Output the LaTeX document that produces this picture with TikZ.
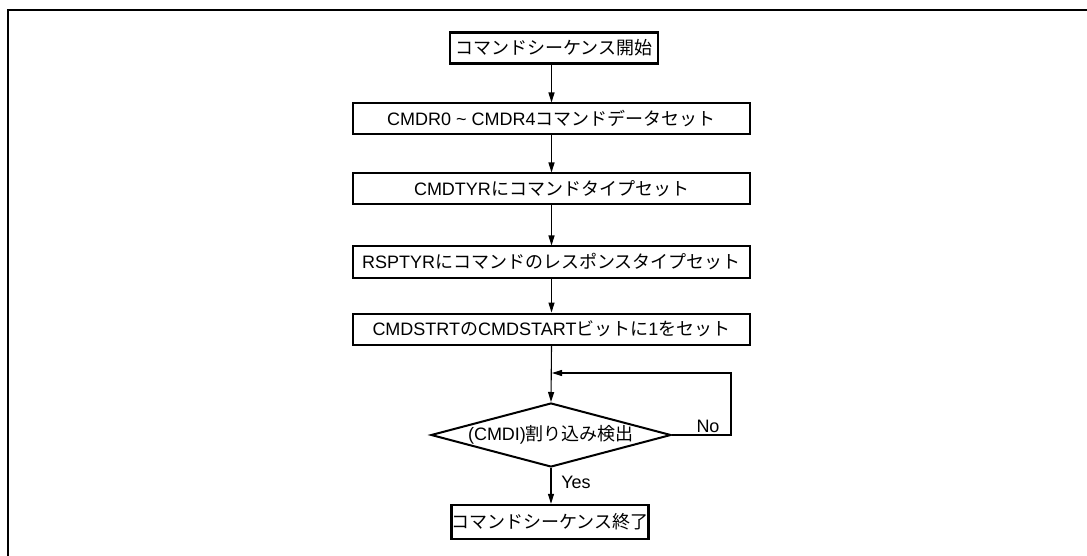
\documentclass[tikz,border=0pt]{standalone}
\usepackage{fontspec}
\setmainfont{Liberation Sans}
\newfontfamily\jp{Noto Sans CJK JP}
\usetikzlibrary{arrows.meta,shapes.geometric}
\begin{document}
\begin{tikzpicture}[x=1pt,y=-1pt,
  every node/.style={font=\fontsize{18}{20}\selectfont},
  proc/.style={draw, line width=2pt, minimum width=397pt, minimum height=31pt, inner sep=0pt},
  term/.style={draw, line width=2.4pt, minimum height=31pt, inner sep=0pt},
  arr/.style={-{Triangle[length=10pt,width=6pt]}, line width=1.1pt},
  lbl/.style={inner sep=0pt}]
\useasboundingbox (0,0) rectangle (1087,556);
\draw[line width=2.5pt] (8,560) -- (8,10) -- (1090,10);

\node[term, minimum width=208pt] (s) at (554,48) {\jp コマンドシーケンス開始};
\node[proc] (b2) at (551.5,119) {CMDR0 \textasciitilde\ CMDR4{\jp コマンドデータセット}};
\node[proc] (b3) at (551.5,189) {CMDTYR{\jp にコマンドタイプセット}};
\node[proc] (b4) at (551.5,262) {RSPTYR{\jp にコマンドのレスポンスタイプセット}};
\node[proc] (b5) at (551.5,329) {CMDSTRT{\jp の}CMDSTART{\jp ビットに}1{\jp をセット}};
\node[draw, diamond, line width=2pt, minimum width=240pt, minimum height=64pt, inner sep=0pt] (dia) at (551,435) {};
\node[lbl] (dt) at (dia.center) {(CMDI){\jp 割り込み検出}};
\node[term, minimum width=197pt, minimum height=34pt] (e) at (550,522) {\jp コマンドシーケンス終了};

\coordinate (lr) at (731,373);
\coordinate (lj) at (552,373);

\draw[arr] (s.south -| b2.north) -- (b2.north);
\draw[arr] (b2.south) -- (b3.north);
\draw[arr] (b3.south) -- (b4.north);
\draw[arr] (b4.south) -- (b5.north);
\draw[arr] (b5.south) -- (dia.north);
\draw[arr] (dia.east) -| (lr) -- (lj);
\draw[arr] (dia.south) -- (e.north -| dia.south);

\node[lbl] (no) at (708,426) {No};
\node[lbl] (yes) at (576,482) {Yes};
\end{tikzpicture}
\end{document}
